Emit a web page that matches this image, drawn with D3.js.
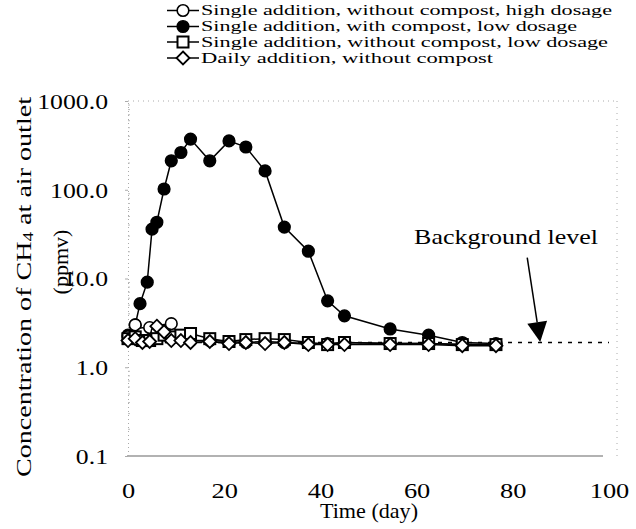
<!DOCTYPE html>
<html><head><meta charset="utf-8">
<script src="https://cdn.jsdelivr.net/npm/d3@7"></script>
<style id="fontstyle">
html,body{margin:0;padding:0;background:#fff;}
text{font-family:"Liberation Serif","Times New Roman",serif;fill:#000;}
</style></head>
<body><svg id="c" width="636" height="529"></svg>
<script>
// ---- data ----
const seriesNames = [
  "Single addition, without compost, high dosage",
  "Single addition, with compost, low dosage",
  "Single addition, without compost, low dosage",
  "Daily addition, without compost"
];
const timesFilled = [0, 1.5, 2.5, 4, 5, 6, 7.5, 9, 11, 13, 17, 21, 24.5, 28.5, 32.5, 37.5, 41.5, 45, 54.5, 62.5, 69.5, 76.5];
const withCompostLow = [2.3, 3.0, 5.2, 9.1, 36, 43, 102, 212, 263, 372, 212, 355, 303, 163, 38, 20.3, 5.6, 3.8, 2.7, 2.3, 1.9, 1.85];
const timesOther = [0, 1.5, 3, 4.5, 6, 7.5, 9, 11, 13, 17, 21, 24.5, 28.5, 32.5, 37.5, 41.5, 45, 54.5, 62.5, 69.5, 76.5];
const withoutCompostHigh = [2.2, 3.0, 2.4, 2.8, 2.5, 2.6, 3.1, 2.1, 2.0, 2.0, 1.95, 1.9, 1.95, 1.9, 1.85, 1.85, 1.9, 1.85, 1.85, 1.8, 1.8];
const withoutCompostLow = [2.1, 2.2, 2.0, 2.0, 2.1, 2.3, 2.2, 2.3, 2.4, 2.1, 1.95, 2.05, 2.1, 2.05, 1.9, 1.8, 1.9, 1.85, 1.85, 1.8, 1.8];
const dailyAddition = [2.0, 2.1, 1.9, 1.95, 2.9, 2.5, 2.0, 2.0, 1.9, 1.95, 1.85, 1.9, 1.85, 1.9, 1.8, 1.8, 1.8, 1.8, 1.8, 1.75, 1.75];
const backgroundLevel = 1.9;
const yTicks = [0.1, 1, 10, 100, 1000];
const xTicks = [0, 20, 40, 60, 80, 100];
const annotation = {label: "Background level", textT: 78.6, textV: 29.6, tailT: 83, tailV: 17.2, tipT: 85.7, tipV: 1.92};

// ---- font pick (first installed Times-like serif) ----
(function () {
  const ctx = document.createElement("canvas").getContext("2d");
  const s = "mmmmmmmmmmlli1000.0 Background level";
  ctx.font = "40px monospace";
  const base = ctx.measureText(s).width;
  const list = ["Liberation Serif", "Tinos", "Times New Roman", "Nimbus Roman", "Nimbus Roman No9 L", "FreeSerif", "DejaVu Serif"];
  let pick = "serif";
  for (const f of list) {
    ctx.font = `40px "${f}", monospace`;
    if (Math.abs(ctx.measureText(s).width - base) > 0.5) { pick = f; break; }
  }
  document.getElementById("fontstyle").textContent =
    `html,body{margin:0;padding:0;background:#fff;} text{font-family:"${pick}",serif;fill:#000;}`;
})();

// ---- layout ----
const svg = d3.select("#c");
const x = d3.scaleLinear().domain([0, 100]).range([128, 609]);
const y = d3.scaleLog().domain([0.1, 1000]).range([456, 101]);
const frameRight = 617;

function stretch(sel, k) {
  sel.each(function () {
    const w = this.getComputedTextLength();
    d3.select(this).attr("textLength", w * k).attr("lengthAdjust", "spacingAndGlyphs");
  });
}

// frame
svg.append("line").attr("x1", x(0)).attr("x2", frameRight).attr("y1", y(1000)).attr("y2", y(1000))
  .attr("stroke", "#aaa").attr("stroke-width", 1).attr("stroke-dasharray", "1,4");
svg.append("line").attr("x1", frameRight).attr("x2", frameRight).attr("y1", y(1000)).attr("y2", y(0.1))
  .attr("stroke", "#aaa").attr("stroke-width", 1).attr("stroke-dasharray", "1,5");
svg.append("line").attr("x1", x(0) - 1).attr("x2", 603).attr("y1", y(0.1)).attr("y2", y(0.1))
  .attr("stroke", "#666").attr("stroke-width", 1.2);

// y axis
const yAxis = svg.append("g").attr("transform", `translate(${x(0)},0)`)
  .call(d3.axisLeft(y).tickValues(yTicks).tickFormat(d3.format(".1f")).tickSize(3).tickPadding(17));
yAxis.attr("font-family", null);
yAxis.select(".domain").attr("stroke", "#aaa").attr("stroke-dasharray", "1,3");
yAxis.selectAll(".tick line").attr("stroke", "#aaa");
yAxis.selectAll("text").attr("font-size", 22).attr("dy", "0.34em");
stretch(yAxis.selectAll("text"), 1.17);
// minor ticks
const minor = [];
for (let e = -1; e < 3; e++) for (let m = 2; m < 10; m++) minor.push(m * Math.pow(10, e));
svg.append("g").selectAll("line").data(minor).join("line")
  .attr("x1", x(0)).attr("x2", x(0) + 2).attr("y1", d => y(d)).attr("y2", d => y(d))
  .attr("stroke", "#bbb").attr("stroke-width", 1);

// x axis labels
const xAxis = svg.append("g").attr("transform", `translate(0,${y(0.1)})`)
  .call(d3.axisBottom(x).tickValues(xTicks).tickFormat(d3.format("d")).tickSize(0).tickPadding(26));
xAxis.attr("font-family", null);
xAxis.select(".domain").remove();
xAxis.selectAll("text").attr("font-size", 22);
stretch(xAxis.selectAll("text"), 1.2);

svg.append("text").attr("x", 369).attr("y", 518).attr("text-anchor", "middle")
  .attr("font-size", 21).attr("textLength", 98).attr("lengthAdjust", "spacingAndGlyphs").text("Time (day)");

// y title
const yt = svg.append("text").attr("transform", "translate(31,287) rotate(-90)").attr("text-anchor", "middle")
  .attr("font-size", 22).attr("textLength", 380).attr("lengthAdjust", "spacingAndGlyphs");
yt.append("tspan").text("Concentration of CH");
yt.append("tspan").attr("font-size", 15).attr("dy", 2).text("4");
yt.append("tspan").attr("dy", -2).text(" at air outlet");
svg.append("text").attr("transform", "translate(68,262) rotate(-90)").attr("text-anchor", "middle")
  .attr("font-size", 22).text("(ppmv)");

// background level
svg.append("line").attr("x1", x(0)).attr("x2", x(100)).attr("y1", y(backgroundLevel)).attr("y2", y(backgroundLevel))
  .attr("stroke", "#000").attr("stroke-width", 1.5).attr("stroke-dasharray", "4,6");

// series
const line = d3.line().x(d => x(d[0])).y(d => y(d[1]));
const series = [
  {name: seriesNames[0], t: timesOther, v: withoutCompostHigh, shape: "circle", fill: "#fff"},
  {name: seriesNames[1], t: timesFilled, v: withCompostLow, shape: "circle", fill: "#000"},
  {name: seriesNames[2], t: timesOther, v: withoutCompostLow, shape: "square", fill: "#fff"},
  {name: seriesNames[3], t: timesOther, v: dailyAddition, shape: "diamond", fill: "#fff"}
];
function drawMarker(g, shape, fill, cx, cy) {
  if (shape === "circle") {
    g.append("circle").attr("cx", cx).attr("cy", cy).attr("r", 5.8).attr("fill", fill).attr("stroke", "#000").attr("stroke-width", 1.6);
  } else if (shape === "square") {
    g.append("rect").attr("x", cx - 5.5).attr("y", cy - 5.5).attr("width", 11).attr("height", 11).attr("fill", fill).attr("stroke", "#000").attr("stroke-width", 2);
  } else {
    const s = 6.5;
    g.append("path").attr("d", `M${cx},${cy - s}L${cx + s},${cy}L${cx},${cy + s}L${cx - s},${cy}Z`).attr("fill", fill).attr("stroke", "#000").attr("stroke-width", 1.8);
  }
}
const order = [1, 0, 2, 3];
order.forEach(i => {
  const s = series[i];
  const pts = s.t.map((t, j) => [t, s.v[j]]);
  svg.append("path").attr("d", line(pts)).attr("fill", "none").attr("stroke", "#000").attr("stroke-width", 1.5);
});
order.forEach(i => {
  const s = series[i];
  const g = svg.append("g");
  s.t.forEach((t, j) => drawMarker(g, s.shape, s.fill, x(t), y(s.v[j])));
});

// annotation
const ax1 = x(annotation.tailT), ay1 = y(annotation.tailV), ax2 = x(annotation.tipT), ay2 = y(annotation.tipV);
const ang = Math.atan2(ay2 - ay1, ax2 - ax1);
const hl = 20, hw = 10;
const bx = ax2 - hl * Math.cos(ang), by = ay2 - hl * Math.sin(ang);
svg.append("line").attr("x1", ax1).attr("y1", ay1).attr("x2", bx).attr("y2", by).attr("stroke", "#000").attr("stroke-width", 1.5);
svg.append("path").attr("d", `M${ax2},${ay2}L${bx + hw * Math.sin(ang)},${by - hw * Math.cos(ang)}L${bx - hw * Math.sin(ang)},${by + hw * Math.cos(ang)}Z`).attr("fill", "#000");
svg.append("text").attr("x", x(annotation.textT)).attr("y", y(annotation.textV) + 7).attr("text-anchor", "middle")
  .attr("font-size", 21).attr("textLength", 184).attr("lengthAdjust", "spacingAndGlyphs").text(annotation.label);

// legend
const legY = [10.5, 26.5, 42, 58];
const legW = [411, 376, 407, 292];
series.forEach((s, i) => {
  const g = svg.append("g");
  g.append("line").attr("x1", 167).attr("x2", 199).attr("y1", legY[i]).attr("y2", legY[i]).attr("stroke", "#000").attr("stroke-width", 1.5);
  drawMarker(g, s.shape, s.fill, 183, legY[i]);
  g.append("text").attr("x", 201).attr("y", legY[i] + 4.5).attr("font-size", 14.5)
    .attr("textLength", legW[i]).attr("lengthAdjust", "spacingAndGlyphs").text(s.name);
});
</script></body></html>
